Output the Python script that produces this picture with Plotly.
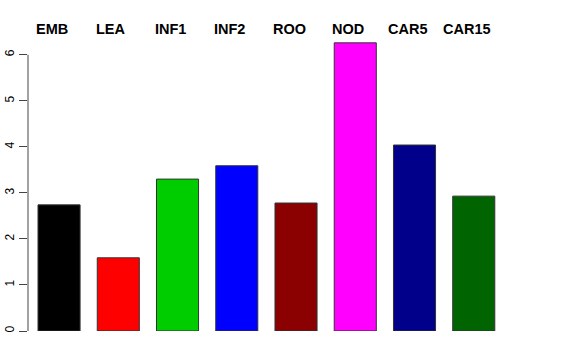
import plotly.graph_objects as go

categories = ["EMB", "LEA", "INF1", "INF2", "ROO", "NOD", "CAR5", "CAR15"]
values = [2.74, 1.59, 3.30, 3.59, 2.78, 6.26, 4.04, 2.93]
colors = ["#000000", "#FF0000", "#00CD00", "#0000FF", "#8B0000", "#FF00FF", "#00008B", "#006400"]
y_ticks = [0, 1, 2, 3, 4, 5, 6]

positions = list(range(len(categories)))

fig = go.Figure()
fig.add_trace(go.Bar(
    x=positions, y=values, width=0.71,
    marker=dict(color=colors, line=dict(color="#333333", width=1)),
    showlegend=False, hoverinfo="skip",
))

for p, c in zip(positions, categories):
    fig.add_annotation(x=p, y=1.041, xref="x", yref="paper", text="<b>%s</b>" % c,
                       showarrow=False, xshift=-7, yanchor="middle",
                       font=dict(family="Liberation Sans, Arial, sans-serif", size=14.5, color="black"))

# R-style axis line only from 0 to 6
fig.add_shape(type="line", xref="paper", yref="y", x0=0, x1=0, y0=y_ticks[0], y1=y_ticks[-1],
              line=dict(color="#444444", width=1))

fig.update_layout(
    width=576, height=360,
    margin=dict(l=28, r=43, t=41, b=29),
    plot_bgcolor="white", paper_bgcolor="white",
    xaxis=dict(range=[-0.524, 8.0], showticklabels=False, showgrid=False, zeroline=False,
               showline=False, ticks="", automargin=False),
    yaxis=dict(range=[0, 6.3], tickvals=y_ticks, ticktext=[str(t) for t in y_ticks],
               tickangle=-90, ticks="outside", ticklen=8, tickcolor="#444444",
               showgrid=False, zeroline=False, showline=False, automargin=False,
               tickfont=dict(family="Liberation Sans, Arial, sans-serif", size=12, color="black")),
)

fig.write_html("out.html", config={"displayModeBar": False},
               post_script="document.body.style.margin='0';document.body.style.overflow='hidden';")
